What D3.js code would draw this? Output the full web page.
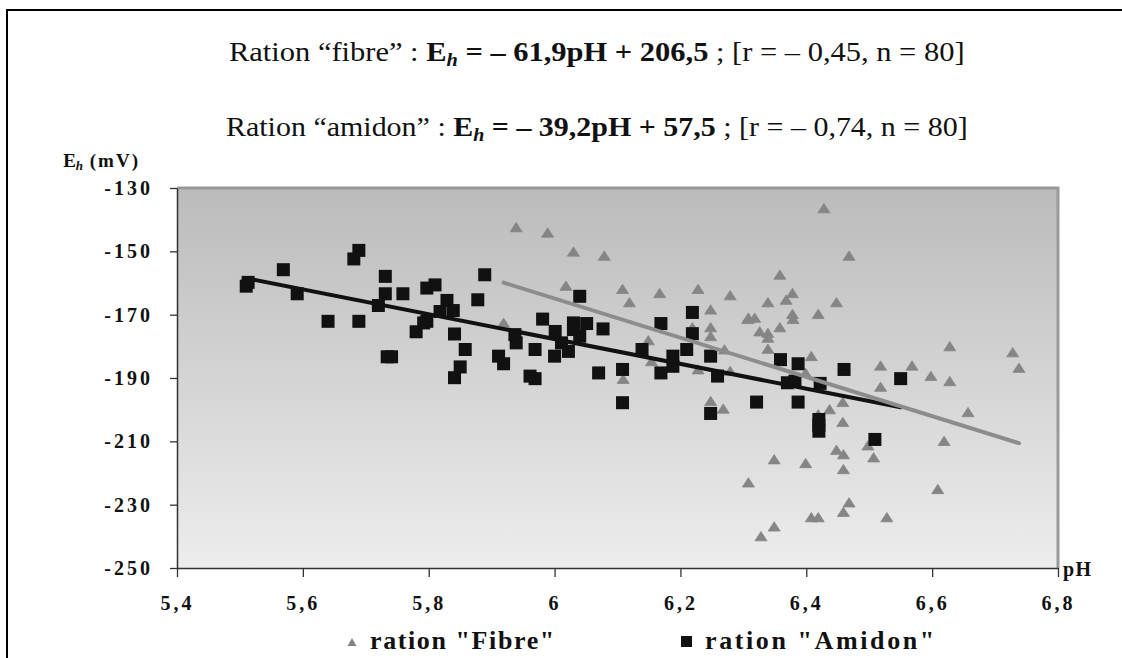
<!DOCTYPE html>
<style>
body { margin: 0; background: #fff; }
.axis .domain { stroke: #333; stroke-width: 1.5; }
.axis line { stroke: #333; stroke-width: 1.3; }
</style>
<svg width="1122" height="658" class="chart"></svg>
<script src="https://d3js.org/d3.v7.min.js"></script>
<script>

var FONT = "'Liberation Serif', 'Times New Roman', serif";

// ration "Fibre" : [pH, Eh mV]
var fibre = [
  [5.939,-142.4],[5.989,-144.1],[6.030,-150.1],[6.079,-151.4],[6.018,-160.9],[6.108,-161.9],
  [6.119,-166.1],[6.167,-163.2],[6.228,-161.9],[6.279,-163.9],[6.307,-171.4],[6.248,-168.4],
  [6.248,-174.0],[6.219,-174.0],[6.248,-176.8],[5.919,-172.6],[6.149,-178.1],[6.270,-181.0],
  [6.154,-184.7],[6.228,-187.3],[6.279,-187.8],[6.109,-190.3],[6.248,-197.3],[6.268,-199.7],
  [6.428,-136.4],[6.468,-151.4],[6.358,-157.4],[6.378,-163.2],[6.339,-166.1],[6.368,-165.3],
  [6.448,-166.1],[6.308,-171.0],[6.318,-171.0],[6.378,-169.8],[6.379,-171.4],[6.419,-169.8],
  [6.358,-174.0],[6.326,-175.3],[6.339,-175.8],[6.339,-177.3],[6.339,-180.8],[6.408,-183.1],
  [6.628,-180.0],[6.728,-181.9],[6.738,-186.8],[6.518,-186.1],[6.568,-186.1],[6.598,-189.4],
  [6.628,-191.0],[6.518,-192.8],[6.399,-188.4],[6.458,-197.6],[6.437,-199.9],[6.419,-201.5],
  [6.458,-203.9],[6.657,-200.8],[6.619,-209.9],[6.498,-211.3],[6.448,-212.7],[6.459,-214.1],
  [6.507,-215.1],[6.349,-215.7],[6.399,-216.9],[6.459,-218.8],[6.308,-223.0],[6.609,-225.1],
  [6.468,-229.3],[6.459,-232.3],[6.408,-234.0],[6.419,-234.0],[6.528,-234.0],[6.349,-236.9],
  [6.328,-240.0]
];

// ration "Amidon" : [pH, Eh mV]
var amidon = [
  [5.510,-161.0],[5.513,-159.8],[5.569,-155.8],[5.591,-163.4],[5.640,-172.1],[5.689,-172.1],
  [5.689,-149.7],[5.681,-152.4],[5.731,-157.9],[5.731,-163.4],[5.759,-163.4],[5.720,-167.1],
  [5.741,-183.3],[5.734,-183.3],[5.797,-161.6],[5.810,-160.6],[5.829,-165.5],[5.818,-169.0],
  [5.839,-168.7],[5.797,-172.1],[5.792,-172.6],[5.780,-175.4],[5.841,-176.1],[5.858,-181.0],
  [5.850,-186.5],[5.841,-189.9],[5.889,-157.4],[5.878,-165.3],[6.040,-164.2],[5.981,-171.4],
  [5.937,-176.3],[5.939,-178.9],[6.001,-175.3],[6.011,-178.9],[6.030,-172.6],[6.030,-174.7],
  [6.051,-172.8],[6.040,-176.8],[6.022,-181.6],[6.000,-183.1],[5.969,-181.0],[6.077,-174.5],
  [5.911,-183.1],[5.919,-185.5],[5.961,-189.4],[5.969,-190.2],[6.070,-188.4],[6.108,-187.3],
  [6.108,-197.8],[6.139,-181.0],[6.169,-172.8],[6.169,-188.4],[6.188,-183.1],[6.188,-186.3],
  [6.210,-181.0],[6.219,-169.3],[6.219,-176.0],[6.248,-183.1],[6.259,-189.4],[6.248,-201.2],
  [6.359,-184.2],[6.387,-185.5],[6.370,-191.5],[6.382,-191.0],[6.422,-191.7],[6.460,-187.3],
  [6.550,-190.2],[6.321,-197.6],[6.387,-197.6],[6.420,-203.1],[6.420,-205.0],[6.420,-206.8],
  [6.509,-209.4]
];

var fibreFit = [-61.9, 206.5];   // slope, intercept
var amidonFit = [-39.2, 57.5];

var xTicks = [5.4, 5.6, 5.8, 6.0, 6.2, 6.4, 6.6, 6.8];
var xTickLabels = ["5,4", "5,6", "5,8", "6", "6,2", "6,4", "6,6", "6,8"];
var yTicks = [-130, -150, -170, -190, -210, -230, -250];

var svg = d3.select(".chart").attr("font-family", FONT),
    margin = {top: 188, right: 64, bottom: 90, left: 177},
    width = +svg.attr("width") - margin.left - margin.right,
    height = +svg.attr("height") - margin.top - margin.bottom;

// outer frame (top + left)
svg.append("path")
    .attr("d", "M7,658 V10 H1122")
    .attr("fill", "none")
    .attr("stroke", "#000")
    .attr("stroke-width", 2);

// titles
function title(y, label, eq, stats, targetW) {
  var t = svg.append("text")
      .attr("x", 0).attr("y", y)
      .attr("font-size", 27)
      .attr("fill", "#111");
  t.append("tspan").text(label);
  t.append("tspan").attr("font-weight", "bold").text("E");
  t.append("tspan").attr("font-weight", "bold").attr("font-style", "italic")
      .attr("font-size", 18).attr("dy", 5).text("h");
  t.append("tspan").attr("font-weight", "bold").attr("dy", -5).text(eq);
  t.append("tspan").text(stats);
  var w = t.node().getComputedTextLength();
  var sx = targetW / w;
  t.attr("transform", "translate(" + (597 - targetW / 2) + ",0) scale(" + sx + ",1)");
}
title(61, "Ration \u201cfibre\u201d : ", " = \u2013 61,9pH + 206,5", " ; [r = \u2013 0,45, n = 80]", 736);
title(136, "Ration \u201camidon\u201d : ", " = \u2013 39,2pH + 57,5", " ; [r = \u2013 0,74, n = 80]", 742);

var defs = svg.append("defs");
var grad = defs.append("linearGradient")
    .attr("id", "bg").attr("x1", 0).attr("y1", 0).attr("x2", 0).attr("y2", 1);
grad.append("stop").attr("offset", "0%").attr("stop-color", "#bbbbbb");
grad.append("stop").attr("offset", "100%").attr("stop-color", "#ededed");

var g = svg.append("g").attr("transform", "translate(" + margin.left + "," + margin.top + ")");

var x = d3.scaleLinear().domain([5.4, 6.8]).range([0, width]);
var y = d3.scaleLinear().domain([-250, -130]).range([height, 0]);

g.append("rect")
    .attr("width", width)
    .attr("height", height)
    .attr("fill", "url(#bg)");

// grey frame top / right
g.append("path")
    .attr("d", "M0,0 H" + width + " V" + height)
    .attr("fill", "none")
    .attr("stroke", "#9a9a9a")
    .attr("stroke-width", 3);

// points
g.append("g")
  .selectAll("path")
  .data(fibre)
  .enter().append("path")
    .attr("transform", function(d) { return "translate(" + x(d[0]) + "," + y(d[1]) + ")"; })
    .attr("d", "M0,-4.8 L6,4.5 L-6,4.5 Z")
    .attr("fill", "#858585")
    .attr("stroke", "#858585")
    .attr("stroke-width", 0.8)
    .attr("stroke-linejoin", "round");

g.append("g")
  .selectAll("rect")
  .data(amidon)
  .enter().append("rect")
    .attr("x", function(d) { return x(d[0]) - 6.5; })
    .attr("y", function(d) { return y(d[1]) - 6.5; })
    .attr("width", 13)
    .attr("height", 13)
    .attr("fill", "#111");

// trend lines
function fitLine(data, fit, color) {
  var ext = d3.extent(data, function(d) { return d[0]; });
  g.append("path")
      .datum(ext)
      .attr("fill", "none")
      .attr("stroke", color)
      .attr("stroke-width", 4)
      .attr("stroke-linecap", "round")
      .attr("d", d3.line()
          .x(function(p) { return x(p); })
          .y(function(p) { return y(fit[0] * p + fit[1]); }));
}
fitLine(amidon, amidonFit, "#111");
fitLine(fibre, fibreFit, "#8c8c8c");

// axes
var ya = g.append("g")
    .attr("class", "axis")
    .call(d3.axisLeft(y).tickValues(yTicks).tickSize(7).tickSizeOuter(0).tickPadding(17)
        .tickFormat(function(d) { return String(d); }));

var xa = g.append("g")
    .attr("class", "axis")
    .attr("transform", "translate(0," + height + ")")
    .call(d3.axisBottom(x).tickValues(xTicks).tickSize(9).tickSizeOuter(0)
        .tickFormat(function(d, i) { return xTickLabels[i]; }));
xa.selectAll("text").attr("y", 35).attr("dy", "0.35em");

[ya, xa].forEach(function(a) {
  a.attr("font-family", FONT).attr("font-size", 20).attr("font-weight", "bold");
  a.selectAll("text").attr("fill", "#111").attr("letter-spacing", 3);
});

// axis titles
var yl = svg.append("text")
    .attr("x", 140).attr("y", 167)
    .attr("text-anchor", "end")
    .attr("font-size", 19)
    .attr("font-weight", "bold")
    .attr("fill", "#111");
yl.append("tspan").text("E");
yl.append("tspan").attr("font-style", "italic").attr("font-size", 13).attr("dy", 3).text("h");
yl.append("tspan").attr("dy", -3).attr("letter-spacing", 2).text(" (mV)");

svg.append("text")
    .attr("x", 1063).attr("y", 576)
    .attr("font-size", 20)
    .attr("font-weight", "bold")
    .attr("letter-spacing", 1.5)
    .attr("fill", "#111")
    .text("pH");

// legend
var legend = svg.append("g")
    .attr("font-size", 26)
    .attr("font-weight", "bold")
    .attr("fill", "#111");

legend.append("path")
    .attr("transform", "translate(352,642)")
    .attr("d", "M0,-4 L4.5,4 L-4.5,4 Z")
    .attr("fill", "#858585");
legend.append("text").attr("x", 370).attr("y", 649)
    .attr("letter-spacing", 1.6).text("ration \"Fibre\"");

legend.append("rect")
    .attr("x", 681).attr("y", 636)
    .attr("width", 11).attr("height", 11)
    .attr("fill", "#111");
legend.append("text").attr("x", 705).attr("y", 649)
    .attr("letter-spacing", 2.6).text("ration \"Amidon\"");

</script>
